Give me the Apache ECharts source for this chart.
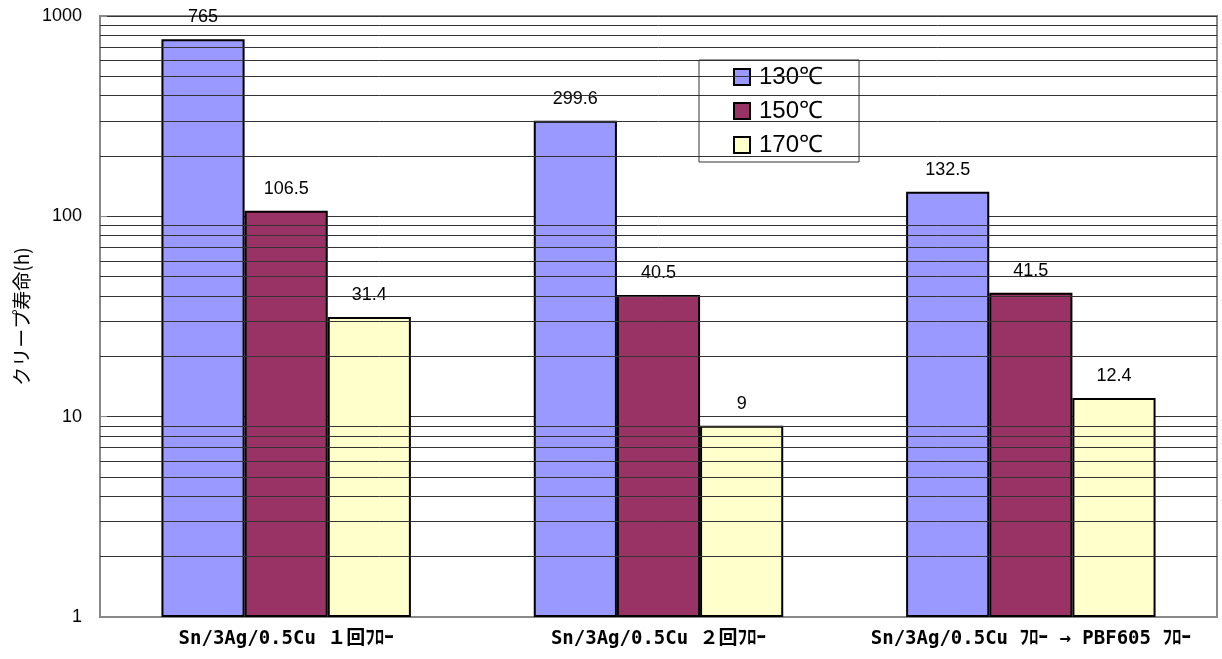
<!DOCTYPE html>
<html>
<head>
<meta charset="utf-8">
<script src="https://cdn.jsdelivr.net/npm/echarts@6/dist/echarts.min.js"></script>
<style>
  html, body { margin: 0; padding: 0; background: #fff; }
  #creepLife { width: 1222px; height: 659px; }
</style>
</head>
<body>
<div id="creepLife"></div>
<script>
// カテゴリ
var categories = [
    'Sn/3Ag/0.5Cu １回ﾌﾛｰ',
    'Sn/3Ag/0.5Cu ２回ﾌﾛｰ',
    'Sn/3Ag/0.5Cu ﾌﾛｰ → PBF605 ﾌﾛｰ'
];
var tempNames = ['130℃', '150℃', '170℃'];
var life130 = [765, 299.6, 132.5];
var life150 = [106.5, 40.5, 41.5];
var life170 = [31.4, 9, 12.4];
var colors = ['#9999FF', '#993366', '#FFFFCC'];
// 補助目盛線
var minorGrid = [2, 3, 4, 5, 6, 7, 8, 9, 20, 30, 40, 50, 60, 70, 80, 90, 200, 300, 400, 500, 600, 700, 800, 900];

var chart = echarts.init(document.getElementById('creepLife'));

function barSeries(name, data, color) {
    return {
        name: name,
        type: 'bar',
        data: data,
        barGap: 0,
        barCategoryGap: '33%',
        z: 3,
        itemStyle: { color: color, borderColor: '#000', borderWidth: 2 },
        label: {
            show: true,
            position: 'top',
            distance: 13,
            color: '#000',
            fontSize: 18,
            fontFamily: 'Liberation Sans, Arial, sans-serif'
        }
    };
}

chart.setOption({
    animation: false,
    grid: {
        left: 100, right: 5, top: 16, bottom: 42,
        show: true, borderColor: '#888', borderWidth: 2
    },
    legend: {
        data: tempNames,
        orient: 'vertical',
        left: 699, top: 60,
        backgroundColor: '#fff',
        borderColor: '#333', borderWidth: 1,
        padding: [5, 36, 5, 34],
        itemWidth: 16, itemHeight: 16, itemGap: 10,
        icon: 'rect',
        textStyle: {
            fontSize: 24, color: '#000', padding: [0, 0, 0, 4],
            fontFamily: 'Liberation Sans, Arial, sans-serif'
        }
    },
    xAxis: {
        type: 'category',
        data: categories,
        axisLine: { lineStyle: { color: '#888', width: 2 } },
        axisTick: { inside: true, length: 6, lineStyle: { color: '#888' } },
        axisLabel: {
            interval: 0,
            hideOverlap: false,
            margin: 13,
            color: '#000',
            fontSize: 19,
            fontWeight: 'bold',
            fontFamily: 'DejaVu Sans Mono, Noto Sans CJK JP, monospace'
        }
    },
    yAxis: {
        type: 'log',
        logBase: 10,
        min: 1,
        max: 1000,
        name: 'クリープ寿命(h)',
        nameLocation: 'middle',
        nameGap: 68,
        nameTextStyle: { fontSize: 19, color: '#000', fontFamily: 'Noto Sans CJK JP, sans-serif' },
        axisLine: { show: true, lineStyle: { color: '#888', width: 2 } },
        axisTick: { show: true, inside: true, length: 7, lineStyle: { color: '#888' } },
        axisLabel: {
            margin: 18, color: '#000', fontSize: 18,
            fontFamily: 'Liberation Sans, Arial, sans-serif',
            formatter: function (v) { return String(v); }
        },
        splitLine: { show: true, lineStyle: { color: '#333', width: 1 } }
    },
    series: [
        {
            name: 'grid',
            type: 'line',
            data: [],
            z: 1,
            silent: true,
            markLine: {
                silent: true,
                symbol: 'none',
                label: { show: false },
                lineStyle: { color: '#333', width: 1, type: 'solid' },
                data: minorGrid.map(function (v) { return { yAxis: v }; })
            }
        },
        barSeries(tempNames[0], life130, colors[0]),
        barSeries(tempNames[1], life150, colors[1]),
        barSeries(tempNames[2], life170, colors[2])
    ]
});
</script>
</body>
</html>
